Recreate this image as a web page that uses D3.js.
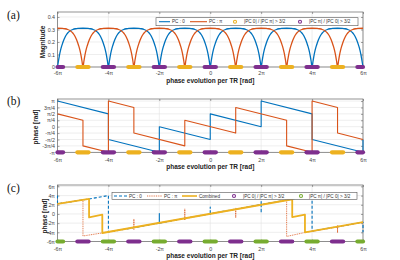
<!DOCTYPE html>
<html>
<head>
<meta charset="utf-8">
<script src="https://cdnjs.cloudflare.com/ajax/libs/d3/7.8.5/d3.min.js"></script>
<style>
  body { margin: 0; background: #fff; }
  svg { display: block; }
</style>
</head>
<body>
<div id="chart-area"></div>
<script>
// all x values are in units of pi
var xTicks = [-6, -4, -2, 0, 2, 4, 6];
var xTickLabels = ["-6\u03c0", "-4\u03c0", "-2\u03c0", "0", "2\u03c0", "4\u03c0", "6\u03c0"];

var magTicks = [0, 0.1, 0.2, 0.3, 0.4];
var magTickLabels = ["0", "0.1", "0.2", "0.3", "0.4"];

var phaseTicksB = [-1, -0.75, -0.5, -0.25, 0, 0.25, 0.5, 0.75, 1];
var phaseTickLabelsB = ["-\u03c0", "-3\u03c0/4", "-\u03c0/2", "-\u03c0/4", "0", "\u03c0/4", "\u03c0/2", "3\u03c0/4", "\u03c0"];

var phaseTicksC = [-6, -4, -2, 0, 2, 4, 6];
var phaseTickLabelsC = ["-6\u03c0", "-4\u03c0", "-2\u03c0", "0", "2\u03c0", "4\u03c0", "6\u03c0"];

// (a) one magnitude lobe (distance from null -> magnitude)
var lobeOffset = [0, 0.04, 0.08, 0.12, 0.16, 0.2, 0.25, 0.3, 0.35, 0.4, 0.5, 0.6, 0.7, 0.8, 1.0];
var lobeMag    = [0, 0.05, 0.097, 0.135, 0.165, 0.19, 0.218, 0.24, 0.258, 0.272, 0.29, 0.3, 0.306, 0.309, 0.31];
var pc0Nulls  = [-6, -4, -2, 0, 2, 4, 6];
var pcPiNulls = [-5, -3, -1, 1, 3, 5];

// marker bands (ratio > 3/2) around each null
var bandHalfWidth = 0.22;

// (b) wrapped phase, vertices [x, y] in pi
var phasePC0 = [[-6, 1], [-4, 0.5], [-4, -0.5], [-2, -1], [-2, 0], [0, -0.5], [0, 0.5],
                [2, 0], [2, 1], [4, 0.5], [4, -0.5], [6, -1], [6, -0.5]];
var phasePCPi = [[-6, 0.5], [-5, 0.25], [-5, -0.75], [-4, -1], [-4, 1], [-3, 0.75], [-3, -0.25],
                 [-1, -0.75], [-1, 0.25], [1, -0.25], [1, 0.75], [3, 0.25], [3, -0.75],
                 [4, -1], [4, 1], [5, 0.75], [5, -0.25], [6, -0.5]];

// (c) unwrapped phase
var unwrapPC0 = [[-6, 4.0], [-6, 2.2], [-4.76, 3.26], [-4, 4.0], [-4, -3.95], [-2, -2.0], [-2, -2.3],
                 [-2, 0.1], [-2, -2.0], [0, 0.05], [0, -0.3], [0, 1.5], [0, 0.05], [2, 2.05],
                 [2, 0.2], [2, 2.7], [2, 2.05], [4, 4.0], [4, -3.75], [6, -1.8], [6, -4.0]];
var unwrapPCPi = [[-6, 2.2], [-5, 3.1], [-5, -4.8], [-4.2, -4.1], [-3, -2.95], [-3, -3.4], [-3, -1.1],
                  [-3, -2.95], [-1, -0.95], [-1, -1.4], [-1, 1.1], [-1, -0.95], [1, 1.0], [1, -0.85],
                  [1, 1.3], [1, 1.0], [3, 3.0], [3, -4.9], [3.75, -4.0], [5, -2.85], [5, -4.1],
                  [5, -2.5], [5, -2.85], [6, -1.8]];
var combined = [[-6, 2.2], [-4.76, 3.26], [-4.76, -0.75], [-4.24, -0.15], [-4.24, -4.15],
                [3.22, 3.2], [3.22, -0.68], [3.72, -0.15], [3.72, -4.0], [6, -1.8]];

var blue = "#0072BD", orange = "#D95319", yellow = "#EDB120", purple = "#7E2F8E", green = "#77AC30";
var sans = "'Liberation Sans', Arial, sans-serif";

var svg = d3.select("#chart-area").append("svg")
            .attr("width", 400)
            .attr("height", 260);

var left = 57.5, right = 363;
var xScale = d3.scaleLinear().domain([-6, 6]).range([left, right]);

// build a tiled magnitude curve from the lobe
function magCurve(nulls) {
    var pts = [];
    nulls.forEach(c => {
        lobeOffset.forEach((d, i) => {
            pts.push([c - d, lobeMag[i]]);
            pts.push([c + d, lobeMag[i]]);
        });
    });
    pts = pts.filter(p => p[0] >= -6 && p[0] <= 6)
             .sort((a, b) => a[0] - b[0]);
    return pts.filter((p, i) => i == 0 || Math.abs(p[0] - pts[i - 1][0]) > 1e-6);
}

function bands(nulls) {
    return nulls.map(c => [Math.max(-6, c - bandHalfWidth), Math.min(6, c + bandHalfWidth)]);
}

function drawPanel(cfg) {
    var yScale = d3.scaleLinear().domain(cfg.yDomain).range([cfg.bottom, cfg.top]);
    var g = svg.append("g");

    // grid
    g.selectAll(".vgrid").data(xTicks).enter().append("line")
        .attr("x1", d => xScale(d)).attr("x2", d => xScale(d))
        .attr("y1", cfg.top).attr("y2", cfg.bottom)
        .attr("stroke", "#e3e3e3").attr("stroke-width", 0.6);
    g.selectAll(".hgrid").data(cfg.yTicks).enter().append("line")
        .attr("x1", left).attr("x2", right)
        .attr("y1", d => yScale(d)).attr("y2", d => yScale(d))
        .attr("stroke", "#e3e3e3").attr("stroke-width", 0.6);

    // box with inward ticks on all sides
    var axisColor = "#666";
    var xb = g.append("g").attr("transform", "translate(0," + cfg.bottom + ")")
        .call(d3.axisBottom(xScale).tickValues(xTicks)
            .tickFormat((d, i) => xTickLabels[i]).tickSizeInner(-2).tickSizeOuter(0).tickPadding(cfg.xPad));
    var xt = g.append("g").attr("transform", "translate(0," + cfg.top + ")")
        .call(d3.axisTop(xScale).tickValues(xTicks).tickFormat("").tickSizeInner(-2).tickSizeOuter(0));
    var yl = g.append("g").attr("transform", "translate(" + left + ",0)")
        .call(d3.axisLeft(yScale).tickValues(cfg.yTicks)
            .tickFormat((d, i) => cfg.yLabels[i]).tickSizeInner(-2).tickSizeOuter(0).tickPadding(2.5));
    var yr = g.append("g").attr("transform", "translate(" + right + ",0)")
        .call(d3.axisRight(yScale).tickValues(cfg.yTicks).tickFormat("").tickSizeInner(-2).tickSizeOuter(0));
    [xb, xt, yl, yr].forEach(a => {
        a.select(".domain").remove();
        a.selectAll("line").attr("stroke", axisColor).attr("stroke-width", 0.6);
        a.selectAll("text").attr("font-size", 5.3).attr("fill", "#444")
         .attr("font-family", sans);
    });
    g.append("rect")
        .attr("x", left).attr("y", cfg.top)
        .attr("width", right - left).attr("height", cfg.bottom - cfg.top)
        .attr("fill", "none").attr("stroke", axisColor).attr("stroke-width", 0.7);

    // series
    cfg.series.forEach(s => {
        var line = d3.line()
            .x(d => xScale(d[0]))
            .y(d => yScale(d[1]));
        if (s.smooth) line.curve(d3.curveMonotoneX);
        g.append("path")
            .datum(s.data)
            .attr("d", line)
            .attr("fill", "none")
            .attr("stroke", s.color)
            .attr("stroke-width", s.width)
            .attr("stroke-dasharray", s.dash || null)
            .attr("stroke-linejoin", "round");
    });

    // marker bands along the bottom
    cfg.markers.forEach(m => {
        g.selectAll(null).data(m.bands).enter().append("line")
            .attr("x1", d => xScale(d[0])).attr("x2", d => xScale(d[1]))
            .attr("y1", yScale(cfg.yDomain[0])).attr("y2", yScale(cfg.yDomain[0]))
            .attr("stroke", m.color).attr("stroke-width", 4.2)
            .attr("stroke-linecap", "round");
    });

    // axis labels
    g.append("text")
        .attr("x", (left + right) / 2).attr("y", cfg.titleY)
        .attr("text-anchor", "middle").attr("font-size", 6.5).attr("font-weight", "bold")
        .attr("font-family", sans).attr("fill", "#222")
        .text("phase evolution per TR [rad]");
    g.append("text")
        .attr("transform", "translate(" + cfg.yLabelX + "," + cfg.yLabelY + ") rotate(-90)")
        .attr("text-anchor", "middle").attr("font-size", 6.5).attr("font-weight", "bold")
        .attr("font-family", sans).attr("fill", "#222")
        .text(cfg.yTitle);

    // panel letter
    g.append("text")
        .attr("x", 7).attr("y", cfg.letterY)
        .attr("font-family", "'Liberation Serif', 'Times New Roman', serif")
        .attr("font-size", 11.5).attr("fill", "#111")
        .text(cfg.letter);

    // legend
    var lg = cfg.legend;
    if (!lg) return;
    g.append("rect")
        .attr("x", lg.x0).attr("y", lg.y - lg.h / 2)
        .attr("width", lg.x1 - lg.x0).attr("height", lg.h)
        .attr("fill", "#fff").attr("stroke", "#555").attr("stroke-width", 0.6);
    lg.items.forEach(it => {
        if (it.type == "line") {
            g.append("line")
                .attr("x1", it.a).attr("x2", it.b).attr("y1", lg.y).attr("y2", lg.y)
                .attr("stroke", it.color).attr("stroke-width", it.width)
                .attr("stroke-dasharray", it.dash || null);
        } else {
            g.append("circle")
                .attr("cx", it.a).attr("cy", lg.y).attr("r", 1.5)
                .attr("fill", "none").attr("stroke", it.color).attr("stroke-width", 1.1);
        }
        g.append("text")
            .attr("x", it.tx).attr("y", lg.y + 1.6)
            .attr("font-family", sans)
            .attr("font-size", 4.6).attr("fill", "#333")
            .text(it.label);
    });
}

var ratio0 = "|PC 0| / |PC \u03c0| > 3/2";
var ratioPi = "|PC \u03c0| / |PC 0| > 3/2";

// (a) magnitude
drawPanel({
    letter: "(a)", letterY: 18.5, top: 12, bottom: 67, yDomain: [0, 0.44],
    yTicks: magTicks, yLabels: magTickLabels, xPad: 4,
    titleY: 83, yTitle: "Magnitude", yLabelX: 45, yLabelY: 42,
    series: [
        { data: magCurve(pc0Nulls), color: blue, width: 1.3, smooth: true },
        { data: magCurve(pcPiNulls), color: orange, width: 1.3, smooth: true }
    ],
    markers: [
        { bands: bands(pcPiNulls), color: yellow },
        { bands: bands(pc0Nulls), color: purple }
    ],
    legend: { x0: 156, x1: 358, y: 21.7, h: 8, items: [
        { type: "line", a: 159, b: 170, color: blue, width: 1.1, tx: 172, label: "PC : 0" },
        { type: "line", a: 190, b: 207, color: orange, width: 1.1, tx: 209, label: "PC : \u03c0" },
        { type: "marker", a: 235, color: yellow, tx: 244, label: ratio0 },
        { type: "marker", a: 300, color: purple, tx: 309, label: ratioPi }
    ] }
});

// (b) wrapped phase
drawPanel({
    letter: "(b)", letterY: 104.5, top: 99, bottom: 152.3, yDomain: [-1, 1.08],
    yTicks: phaseTicksB, yLabels: phaseTickLabelsB, xPad: 6,
    titleY: 169, yTitle: "phase [rad]", yLabelX: 38, yLabelY: 127,
    series: [
        { data: phasePC0, color: blue, width: 1.1 },
        { data: phasePCPi, color: orange, width: 1.1 }
    ],
    markers: [
        { bands: bands(pcPiNulls), color: yellow },
        { bands: bands(pc0Nulls), color: purple }
    ],
    legend: null
});

// (c) unwrapped phase
drawPanel({
    letter: "(c)", letterY: 191.5, top: 185, bottom: 241.5, yDomain: [-6, 6.3],
    yTicks: phaseTicksC, yLabels: phaseTickLabelsC, xPad: 5.5,
    titleY: 258, yTitle: "phase [rad]", yLabelX: 47, yLabelY: 216,
    series: [
        { data: unwrapPC0, color: blue, width: 1.1, dash: "3,2" },
        { data: unwrapPCPi, color: orange, width: 0.8, dash: "1,0.8" },
        { data: combined, color: yellow, width: 1.8 }
    ],
    markers: [
        { bands: bands(pcPiNulls), color: purple },
        { bands: bands(pc0Nulls), color: green }
    ],
    legend: { x0: 112, x1: 357, y: 196, h: 6.8, items: [
        { type: "line", a: 114, b: 127, color: blue, width: 1.1, dash: "3,2", tx: 129, label: "PC : 0" },
        { type: "line", a: 147, b: 162, color: orange, width: 0.8, dash: "1,0.8", tx: 164, label: "PC : \u03c0" },
        { type: "line", a: 182, b: 197, color: yellow, width: 1.6, tx: 199, label: "Combined" },
        { type: "marker", a: 234, color: purple, tx: 243, label: ratio0 },
        { type: "marker", a: 301, color: green, tx: 309, label: ratioPi }
    ] }
});
</script>
</body>
</html>
